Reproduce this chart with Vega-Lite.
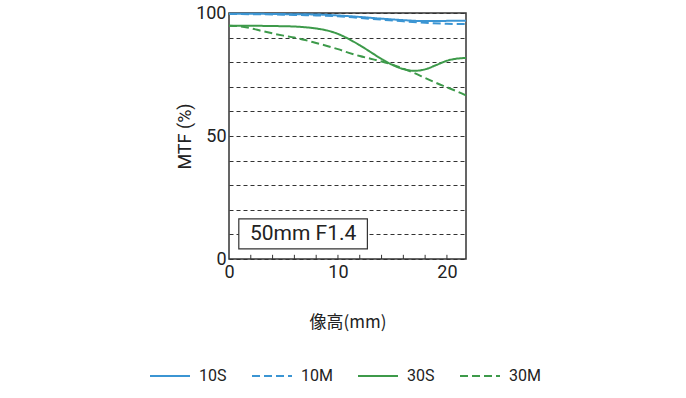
{
  "$schema": "https://vega.github.io/schema/vega-lite/v6.json",
  "width": 237,
  "height": 246,
  "autosize": {"type": "none"},
  "padding": {"left": 229, "top": 13, "right": 220, "bottom": 139},
  "background": "white",
  "config": {
    "font": "Roboto, sans-serif",
    "view": {"stroke": "#333", "strokeWidth": 1.5},
    "axis": {"labelColor": "#222", "titleColor": "#222", "labelFont": "Roboto, sans-serif"},
    "legend": {"labelFont": "Roboto, sans-serif"}
  },
  "datasets": {
    "mtf": [
      {"series": "10S", "x": 0, "y": 99.7}, {"series": "10S", "x": 2, "y": 99.7}, {"series": "10S", "x": 4, "y": 99.6}, {"series": "10S", "x": 6, "y": 99.5}, {"series": "10S", "x": 8, "y": 99.4}, {"series": "10S", "x": 10, "y": 99.0}, {"series": "10S", "x": 12, "y": 98.4}, {"series": "10S", "x": 14, "y": 97.7}, {"series": "10S", "x": 16, "y": 97.1}, {"series": "10S", "x": 18, "y": 96.7}, {"series": "10S", "x": 20, "y": 96.8}, {"series": "10S", "x": 21.75, "y": 96.9},
      {"series": "10M", "x": 0, "y": 99.6}, {"series": "10M", "x": 2, "y": 99.5}, {"series": "10M", "x": 4, "y": 99.4}, {"series": "10M", "x": 6, "y": 99.2}, {"series": "10M", "x": 8, "y": 99.0}, {"series": "10M", "x": 10, "y": 98.7}, {"series": "10M", "x": 12, "y": 98.0}, {"series": "10M", "x": 14, "y": 97.3}, {"series": "10M", "x": 16, "y": 96.6}, {"series": "10M", "x": 18, "y": 96.0}, {"series": "10M", "x": 20, "y": 95.6}, {"series": "10M", "x": 21.75, "y": 95.5},
      {"series": "30S", "x": 0, "y": 94.8}, {"series": "30S", "x": 2, "y": 94.8}, {"series": "30S", "x": 4, "y": 94.7}, {"series": "30S", "x": 6, "y": 94.5}, {"series": "30S", "x": 7, "y": 94.2}, {"series": "30S", "x": 8, "y": 93.7}, {"series": "30S", "x": 9, "y": 92.9}, {"series": "30S", "x": 10, "y": 91.5}, {"series": "30S", "x": 11, "y": 89.4}, {"series": "30S", "x": 12, "y": 86.9}, {"series": "30S", "x": 13, "y": 84.1}, {"series": "30S", "x": 14, "y": 81.3}, {"series": "30S", "x": 15, "y": 78.9}, {"series": "30S", "x": 16, "y": 77.2}, {"series": "30S", "x": 17, "y": 76.5}, {"series": "30S", "x": 18, "y": 77.1}, {"series": "30S", "x": 19, "y": 78.8}, {"series": "30S", "x": 20, "y": 80.6}, {"series": "30S", "x": 21, "y": 81.5}, {"series": "30S", "x": 21.75, "y": 81.7},
      {"series": "30M", "x": 0, "y": 94.8}, {"series": "30M", "x": 1, "y": 94.6}, {"series": "30M", "x": 2, "y": 93.8}, {"series": "30M", "x": 3, "y": 92.7}, {"series": "30M", "x": 4, "y": 91.7}, {"series": "30M", "x": 5, "y": 90.8}, {"series": "30M", "x": 6, "y": 90.0}, {"series": "30M", "x": 7, "y": 89.0}, {"series": "30M", "x": 8, "y": 87.8}, {"series": "30M", "x": 9, "y": 86.6}, {"series": "30M", "x": 10, "y": 85.3}, {"series": "30M", "x": 11, "y": 83.8}, {"series": "30M", "x": 12, "y": 82.5}, {"series": "30M", "x": 13, "y": 81.4}, {"series": "30M", "x": 14, "y": 80.3}, {"series": "30M", "x": 15, "y": 79.0}, {"series": "30M", "x": 16, "y": 77.4}, {"series": "30M", "x": 17, "y": 75.6}, {"series": "30M", "x": 18, "y": 73.6}, {"series": "30M", "x": 19, "y": 71.6}, {"series": "30M", "x": 20, "y": 69.8}, {"series": "30M", "x": 21, "y": 68.0}, {"series": "30M", "x": 21.75, "y": 66.5}
    ],
    "box": [
      {"label": "50mm F1.4", "x": 0.9, "x2": 12.7, "y": 4.1, "y2": 16.3, "xc": 6.8, "yc": 10.2}
    ],
    "ticks": [
      {"x": 2}, {"x": 4}, {"x": 6}, {"x": 8}, {"x": 10}, {"x": 12}, {"x": 14}, {"x": 16}, {"x": 18}, {"x": 20}
    ]
  },
  "layer": [
    {
      "data": {"name": "mtf"},
      "mark": {"type": "line", "strokeWidth": 2, "interpolate": "monotone"},
      "encoding": {
        "x": {
          "field": "x", "type": "quantitative",
          "scale": {"domain": [0, 21.75], "nice": false, "zero": true},
          "axis": {
            "title": "像高(mm)", "values": [0, 10, 20],
            "tickCount": 3,
            "labelOverlap": false,
            "ticks": false, "domain": false, "grid": false,
            "labelFontSize": 18, "labelPadding": 4, "labelFlush": false,
            "titleFont": "'Noto Sans CJK JP'", "titleFontSize": 17, "titleFontWeight": "normal", "titlePadding": 33
          }
        },
        "y": {
          "field": "y", "type": "quantitative",
          "scale": {"domain": [0, 100], "nice": false},
          "axis": {
            "title": "MTF (%)", "values": [0, 10, 20, 30, 40, 50, 60, 70, 80, 90, 100],
            "tickCount": 11,
            "labelExpr": "datum.value % 50 === 0 ? datum.label : ''",
            "labelOverlap": false,
            "ticks": false, "domain": false, "grid": true, "gridDash": [4, 3], "gridColor": "#333", "gridWidth": 1, "gridOpacity": 1,
            "labelFontSize": 18, "labelPadding": 3, "labelFlush": false,
            "titleFontSize": 18, "titleFontWeight": "normal", "titlePadding": 1
          }
        },
        "color": {
          "field": "series", "type": "nominal",
          "scale": {"domain": ["10S", "10M", "30S", "30M"], "range": ["#3b95d3", "#3b95d3", "#3d9a4a", "#3d9a4a"]},
          "legend": {"title": null, "orient": "none", "legendX": -80, "legendY": 342, "direction": "horizontal", "columns": 4, "symbolType": "stroke", "symbolSize": 1600, "symbolStrokeWidth": 2, "labelFontSize": 16, "labelColor": "#222", "labelOffset": 8, "columnPadding": 21}
        },
        "strokeDash": {
          "field": "series", "type": "nominal",
          "scale": {"domain": ["10S", "10M", "30S", "30M"], "range": [[1, 0], [8, 4], [1, 0], [8, 4]]},
          "legend": {"title": null, "orient": "none", "legendX": -80, "legendY": 342, "direction": "horizontal", "columns": 4, "symbolType": "stroke", "symbolSize": 1600, "symbolStrokeWidth": 2, "labelFontSize": 16, "labelColor": "#222", "labelOffset": 8, "columnPadding": 21}
        }
      }
    },
    {
      "data": {"name": "ticks"},
      "mark": {"type": "rule", "stroke": "#333", "strokeWidth": 1},
      "encoding": {
        "x": {"field": "x", "type": "quantitative", "title": "像高(mm)"},
        "y": {"datum": 0, "type": "quantitative"},
        "y2": {"datum": 1.7}
      }
    },
    {
      "data": {"name": "box"},
      "mark": {"type": "rect", "fill": "white", "stroke": "#333", "strokeWidth": 1.2},
      "encoding": {
        "x": {"field": "x", "type": "quantitative", "title": "像高(mm)"},
        "x2": {"field": "x2"},
        "y": {"field": "y", "type": "quantitative", "title": "MTF (%)"},
        "y2": {"field": "y2"}
      }
    },
    {
      "data": {"name": "box"},
      "mark": {"type": "text", "fontSize": 21, "color": "#222", "align": "center", "baseline": "middle"},
      "encoding": {
        "x": {"field": "xc", "type": "quantitative", "title": "像高(mm)"},
        "y": {"field": "yc", "type": "quantitative", "title": "MTF (%)"},
        "text": {"field": "label"}
      }
    }
  ]
}
